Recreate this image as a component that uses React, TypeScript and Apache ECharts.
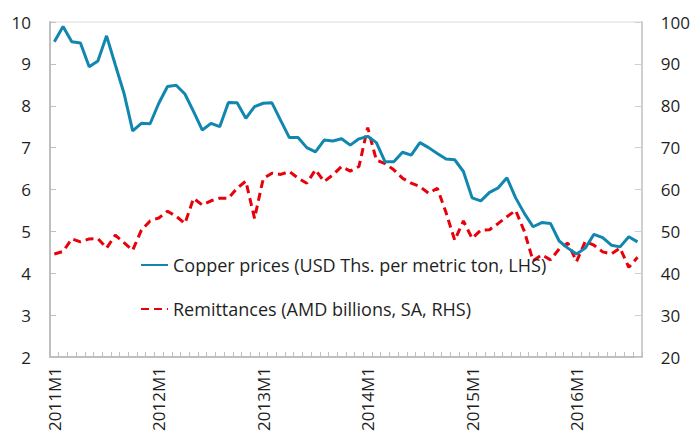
import React, { useEffect, useRef } from "react";
import * as echarts from "echarts";

// Monthly categories 2011M1 .. 2016M8
const startYear = 2011;
const monthCount = 68;
const categories: string[] = [];
for (let k = 0; k < monthCount; k++) {
  categories.push(`${startYear + Math.floor(k / 12)}M${(k % 12) + 1}`);
}

// Copper prices (USD Ths. per metric ton, LHS)
const copperPrices = [
  9.53, 9.89, 9.53, 9.5, 8.93, 9.07, 9.67, 8.98, 8.3, 7.4, 7.58, 7.57,
  8.06, 8.46, 8.49, 8.28, 7.86, 7.42, 7.58, 7.5, 8.08, 8.07, 7.7, 7.98,
  8.06, 8.07, 7.65, 7.24, 7.24, 7.0, 6.9, 7.18, 7.16, 7.21, 7.06, 7.21,
  7.27, 7.12, 6.66, 6.66, 6.89, 6.82, 7.12, 7.0, 6.86, 6.73, 6.71, 6.43,
  5.8, 5.73, 5.93, 6.04, 6.28, 5.8, 5.43, 5.11, 5.21, 5.19, 4.77, 4.6,
  4.46, 4.6, 4.93, 4.85, 4.67, 4.63, 4.87, 4.75,
];

// Remittances (AMD billions, SA, RHS)
const remittances = [
  44.6, 45.2, 48.2, 47.5, 48.2, 48.3, 46.0, 49.1, 47.3, 45.5, 50.3, 52.5,
  53.2, 54.8, 53.6, 51.9, 57.9, 56.3, 57.3, 57.9, 57.9, 60.3, 62.0, 53.1,
  62.6, 63.9, 63.6, 64.3, 62.7, 61.5, 64.7, 61.9, 63.5, 65.5, 64.4, 65.5,
  74.8, 67.0, 66.2, 64.7, 62.7, 61.5, 60.7, 59.1, 60.3, 54.5, 47.9, 52.5,
  48.3, 50.3, 50.4, 51.9, 53.5, 55.0, 50.0, 43.0, 44.4, 43.2, 45.8, 47.2,
  42.8, 47.6, 46.7, 45.1, 44.6, 46.0, 41.4, 43.8,
];

const seriesNames = [
  "Copper prices (USD Ths. per metric ton, LHS)",
  "Remittances (AMD billions, SA, RHS)",
];

const FONT = "'Open Sans', 'Noto Sans', sans-serif";
const TEXT = "#1f1f1f";

export default function App() {
  const ref = useRef<HTMLDivElement>(null);
  useEffect(() => {
    if (!ref.current) return;
    const chart = echarts.init(ref.current, undefined, { renderer: "svg" });
    chart.setOption({
      animation: false,
      textStyle: { fontFamily: FONT },
      grid: {
        left: 50,
        right: 49,
        top: 22,
        bottom: 81,
        show: true,
        borderColor: "#d9d9d9",
        borderWidth: 1,
      },
      legend: {
        orient: "vertical",
        left: 140,
        top: 254,
        padding: 0,
        itemWidth: 27,
        itemHeight: 14,
        itemGap: 22,
        itemStyle: { opacity: 0 },
        textStyle: { fontSize: 18, color: TEXT, fontFamily: FONT, lineHeight: 22 },
        data: seriesNames,
      },
      xAxis: {
        type: "category",
        data: categories,
        boundaryGap: true,
        axisLine: { show: true, lineStyle: { color: "#bfbfbf", width: 2 } },
        axisTick: { show: true, inside: true, length: 5, interval: 0, lineStyle: { color: "#bfbfbf" } },
        axisLabel: {
          interval: 11,
          rotate: 90,
          margin: 10,
          fontSize: 17,
          color: TEXT,
          fontFamily: FONT,
        },
        splitLine: { show: false },
      },
      yAxis: [
        {
          type: "value",
          min: 2,
          max: 10,
          interval: 1,
          position: "left",
          axisLine: { show: true, lineStyle: { color: "#bfbfbf", width: 2 } },
          axisTick: { show: true, inside: true, length: 6, lineStyle: { color: "#bfbfbf" } },
          axisLabel: { margin: 19, fontSize: 17, color: TEXT, fontFamily: FONT },
          splitLine: { show: false },
        },
        {
          type: "value",
          min: 20,
          max: 100,
          interval: 10,
          position: "right",
          axisLine: { show: true, lineStyle: { color: "#cfcfcf", width: 2 } },
          axisTick: { show: true, inside: true, length: 7, lineStyle: { color: "#cfcfcf" } },
          axisLabel: { margin: 19, fontSize: 17, color: TEXT, fontFamily: FONT },
          splitLine: { show: false },
        },
      ],
      series: [
        {
          name: seriesNames[0],
          type: "line",
          yAxisIndex: 0,
          data: copperPrices,
          symbol: "none",
          lineStyle: { color: "#1187b0", width: 3 },
          itemStyle: { color: "#1187b0" },
          z: 3,
        },
        {
          name: seriesNames[1],
          type: "line",
          yAxisIndex: 1,
          data: remittances,
          symbol: "none",
          lineStyle: { color: "#e8000b", width: 3, type: [8, 5] },
          itemStyle: { color: "#e8000b" },
          z: 2,
        },
      ],
    });
    return () => chart.dispose();
  }, []);
  return <div ref={ref} style={{ width: 693, height: 438, position: "absolute", left: 0, top: 0 }} />;
}
